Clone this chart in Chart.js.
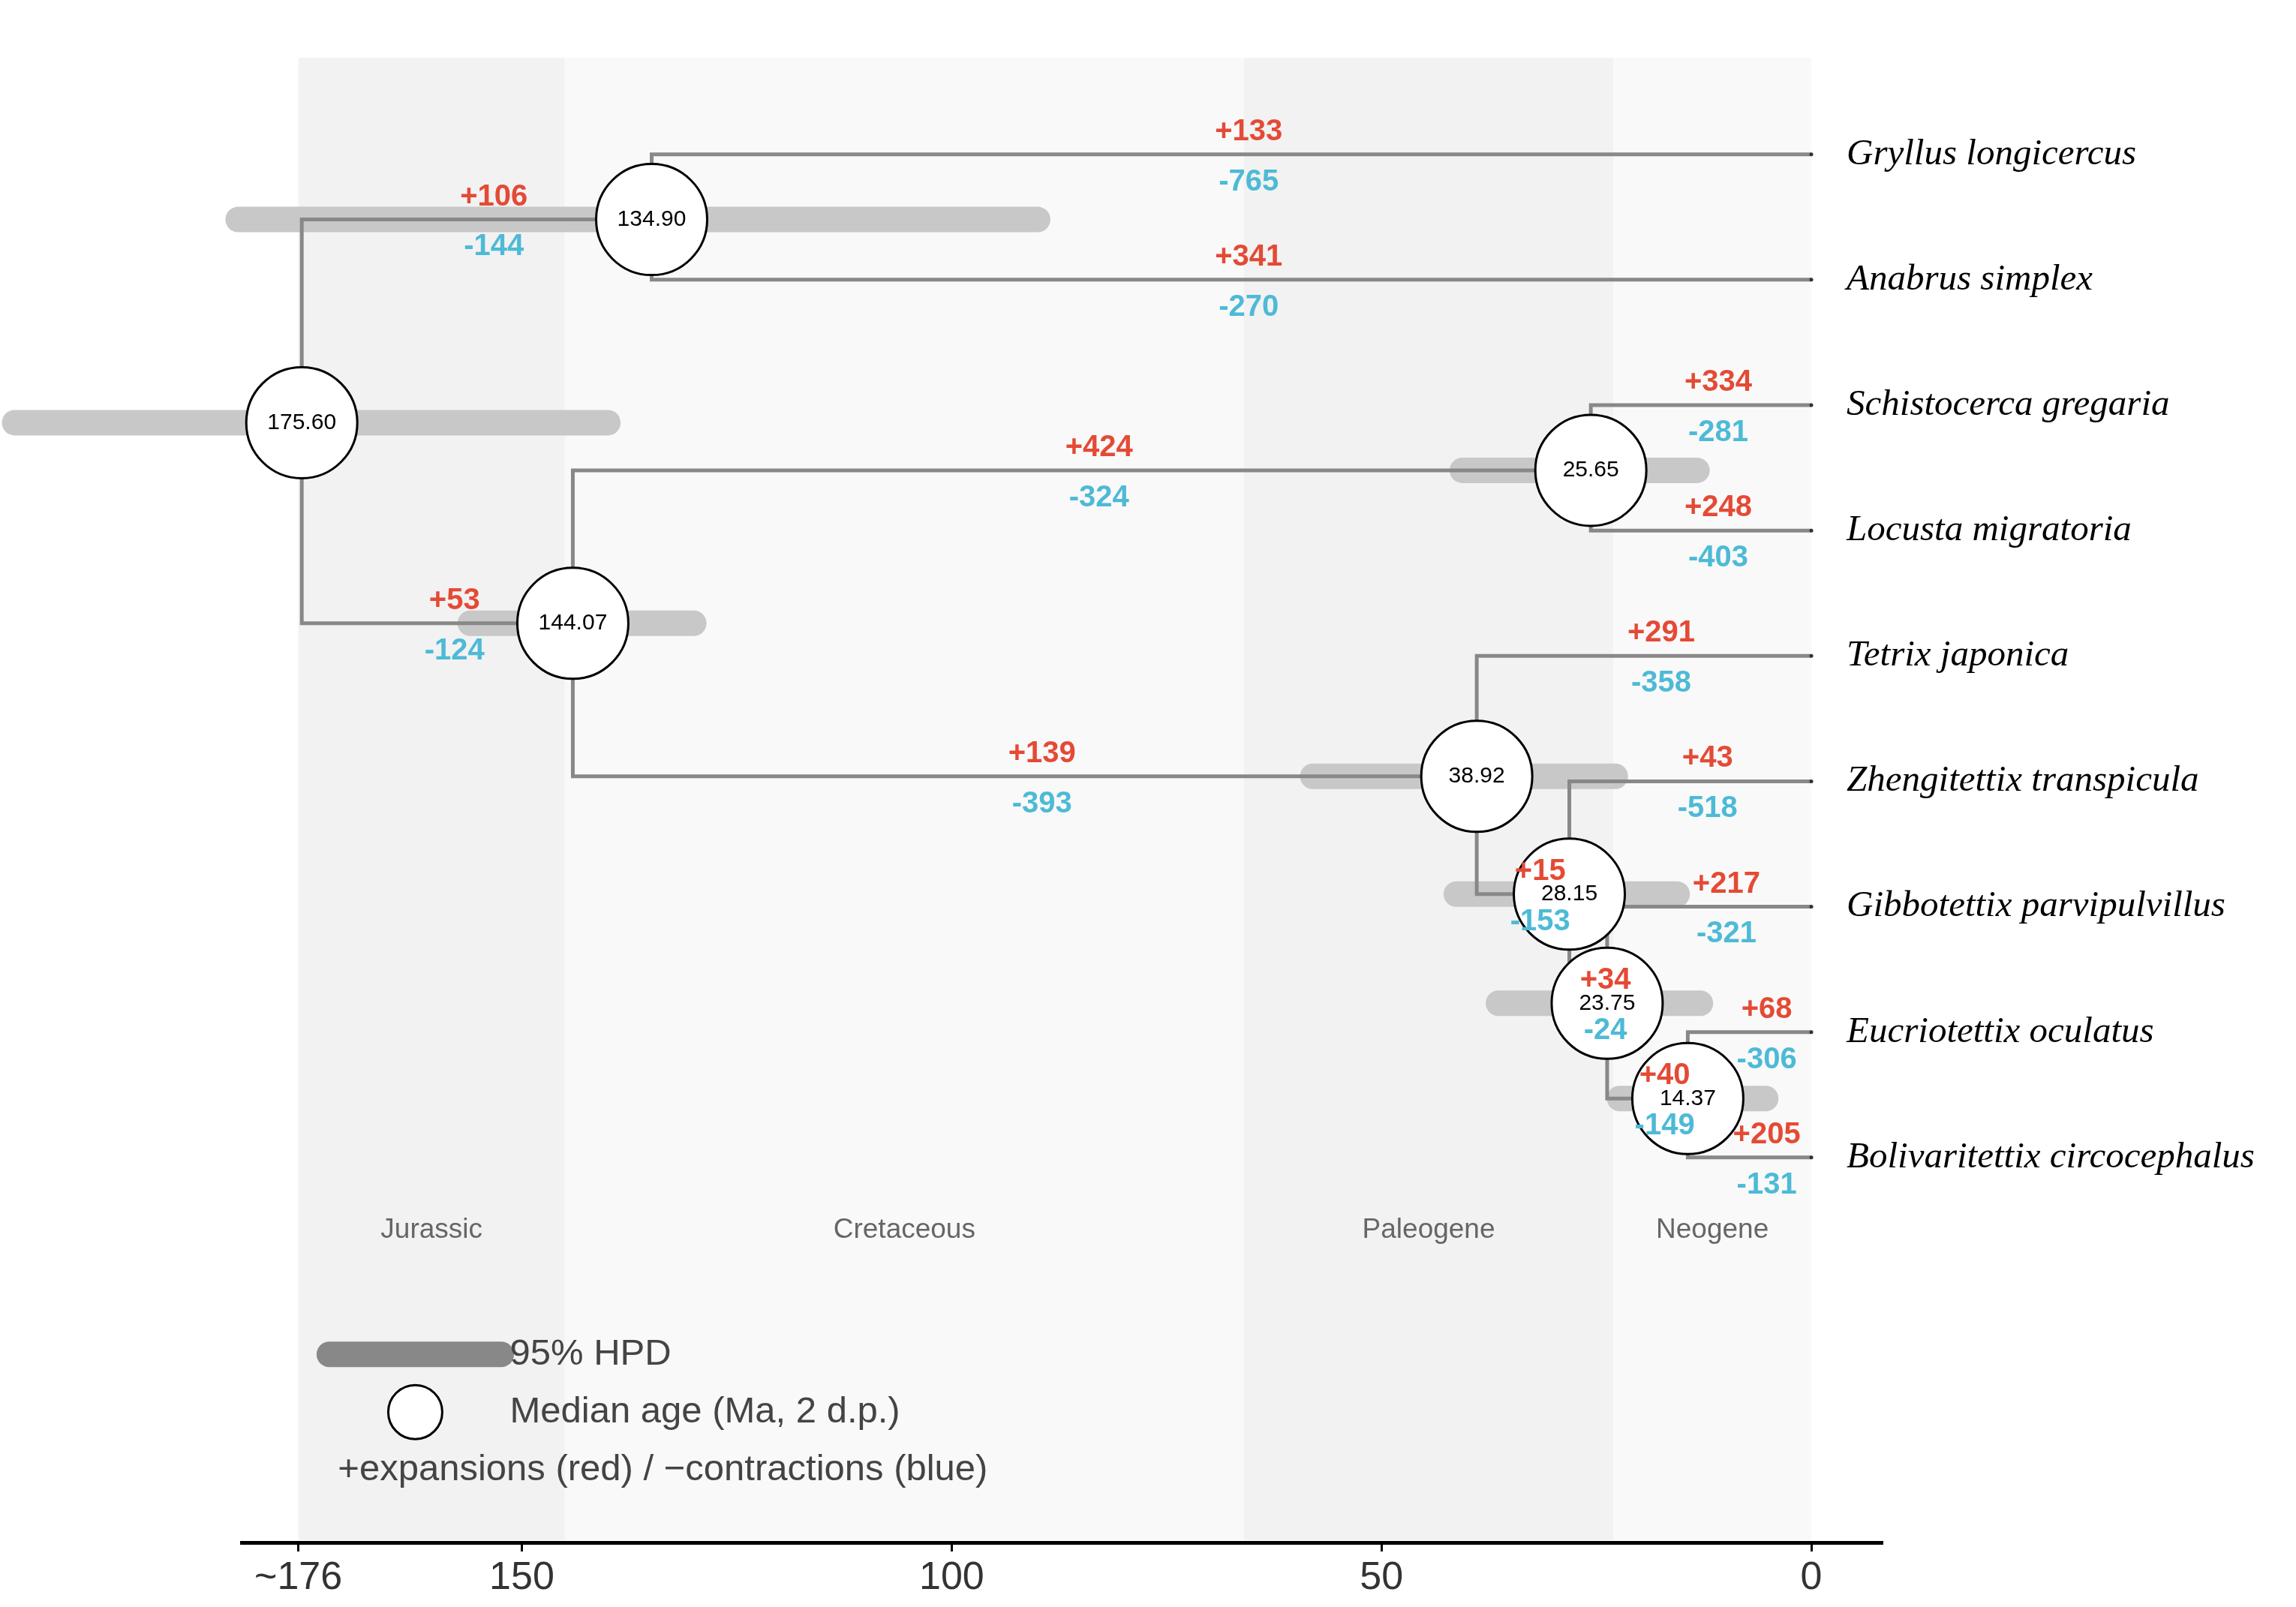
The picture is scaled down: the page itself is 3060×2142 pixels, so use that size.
<!DOCTYPE html>
<html>
<head>
<meta charset="utf-8">
<script src="https://cdn.jsdelivr.net/npm/chart.js@4"></script>
<style>
  html, body { margin: 0; padding: 0; background: #fff; }
  #wrap { width: 3060px; height: 2142px; }
</style>
</head>
<body>
<div id="wrap"><canvas id="tree" width="3060" height="2142"></canvas></div>
<script>
// tips, top to bottom (row = index)
const tipNames = ["Gryllus longicercus", "Anabrus simplex", "Schistocerca gregaria", "Locusta migratoria",
    "Tetrix japonica", "Zhengitettix transpicula", "Gibbotettix parvipulvillus", "Eucriotettix oculatus",
    "Bolivaritettix circocephalus"];

// internal nodes: median age (Ma), row, 95% HPD
const nodeAges = [175.60, 134.90, 144.07, 25.65, 38.92, 28.15, 23.75, 14.37];
const nodeRows = [2.14, 0.52, 3.74, 2.52, 4.96, 5.90, 6.77, 7.53];
const hpdOld = [209, 183, 156, 40.6, 58, 41.3, 36.4, 22.3];
const hpdYoung = [140, 90, 130, 13.3, 22.8, 15.6, 12.9, 5.3];

// branches: parent node -> child (N = node, T = tip), gene family gains / losses
const edgeParent = [0, 0, 1, 1, 2, 2, 3, 3, 4, 4, 5, 5, 6, 6, 7, 7];
const edgeChild = ["N1", "N2", "T0", "T1", "N3", "N4", "T2", "T3", "T4", "N5", "T5", "N6", "T6", "N7", "T7", "T8"];
const gains = [106, 53, 133, 341, 424, 139, 334, 248, 291, 15, 43, 34, 217, 40, 68, 205];
const losses = [144, 124, 765, 270, 324, 393, 281, 403, 358, 153, 518, 24, 321, 149, 306, 131];

// geological periods
const periodNames = ["Jurassic", "Cretaceous", "Paleogene", "Neogene"];
const periodStart = [176, 145, 66, 23.03];
const periodEnd = [145, 66, 23.03, 0];

const xTicks = [176, 150, 100, 50, 0];

const RED = "#e44a35";
const BLUE = "#4dbad6";

function childPos(c) {
    const i = Number(c.slice(1));
    return c[0] === "N" ? { x: nodeAges[i], y: nodeRows[i] } : { x: 0, y: i };
}

const datasets = [];

nodeAges.forEach(function (a, i) {
    datasets.push({
        data: [{ x: hpdOld[i], y: nodeRows[i] }, { x: hpdYoung[i], y: nodeRows[i] }],
        showLine: true, borderColor: "#c8c8c8", borderWidth: 34, borderCapStyle: "round",
        pointRadius: 0, order: 3, clip: false,
    });
});

edgeParent.forEach(function (p, k) {
    const c = childPos(edgeChild[k]);
    datasets.push({
        data: [{ x: nodeAges[p], y: nodeRows[p] }, { x: nodeAges[p], y: c.y }, { x: c.x, y: c.y }],
        showLine: true, borderColor: "#888888", borderWidth: 5, pointRadius: 0, order: 2, clip: false,
    });
});

datasets.push({
    data: tipNames.map(function (n, i) { return { x: 0, y: i }; }),
    pointRadius: 2.5, pointBackgroundColor: "#333", pointBorderWidth: 0, order: 1, clip: false,
});

datasets.push({
    data: nodeAges.map(function (a, i) { return { x: a, y: nodeRows[i] }; }),
    pointRadius: 74, pointBackgroundColor: "#ffffff", pointBorderColor: "#000", pointBorderWidth: 3, order: 0, clip: false,
});

// legend marks
datasets.push({
    data: [{ x: 172.4, y: 9.57 }, { x: 152.4, y: 9.57 }],
    showLine: true, borderColor: "#888888", borderWidth: 34, borderCapStyle: "round", pointRadius: 0, order: 3,
});
datasets.push({
    data: [{ x: 162.4, y: 10.03 }],
    pointRadius: 36, pointBackgroundColor: "#fff", pointBorderColor: "#000", pointBorderWidth: 3, order: 0,
});

const decor = {
    id: "decor",
    beforeDraw(chart) {
        const ctx = chart.ctx, xs = chart.scales.x, ys = chart.scales.y;
        const top = chart.chartArea.top, bottom = chart.chartArea.bottom - 3;
        ctx.save();
        periodNames.forEach(function (n, i) {
            const x0 = xs.getPixelForValue(periodStart[i]), x1 = xs.getPixelForValue(periodEnd[i]);
            ctx.fillStyle = i % 2 === 0 ? "#f2f2f2" : "#f9f9f9";
            ctx.fillRect(x0, top, x1 - x0, bottom - top);
            ctx.fillStyle = "#666";
            ctx.font = "37px 'Liberation Sans', Arial, sans-serif";
            ctx.textAlign = "center";
            ctx.textBaseline = "middle";
            ctx.fillText(n, xs.getPixelForValue((periodStart[i] + periodEnd[i]) / 2), ys.getPixelForValue(8.58));
        });
        ctx.restore();
    },
    afterDatasetsDraw(chart) {
        const ctx = chart.ctx, xs = chart.scales.x, ys = chart.scales.y;
        ctx.save();
        ctx.textAlign = "center";
        ctx.textBaseline = "middle";
        ctx.font = "bold 40px 'Liberation Sans', Arial, sans-serif";
        edgeParent.forEach(function (p, k) {
            const c = childPos(edgeChild[k]);
            const x = xs.getPixelForValue((nodeAges[p] + c.x) / 2 - 2);
            ctx.fillStyle = RED;
            ctx.fillText("+" + gains[k], x, ys.getPixelForValue(c.y - 0.18));
            ctx.fillStyle = BLUE;
            ctx.fillText("-" + losses[k], x, ys.getPixelForValue(c.y + 0.22));
        });
        ctx.fillStyle = "#000";
        ctx.font = "30px 'Liberation Sans', Arial, sans-serif";
        nodeAges.forEach(function (a, i) {
            ctx.fillText(a.toFixed(2), xs.getPixelForValue(a), ys.getPixelForValue(nodeRows[i]));
        });
        ctx.textAlign = "left";
        ctx.font = "italic 49px 'Liberation Serif', 'Times New Roman', serif";
        tipNames.forEach(function (n, i) {
            ctx.fillText(n, xs.getPixelForValue(-4.1), ys.getPixelForValue(i));
        });
        ctx.fillStyle = "#444";
        ctx.font = "49px 'Liberation Sans', Arial, sans-serif";
        ctx.fillText("95% HPD", xs.getPixelForValue(151.4), ys.getPixelForValue(9.57));
        ctx.fillText("Median age (Ma, 2 d.p.)", xs.getPixelForValue(151.4), ys.getPixelForValue(10.03));
        ctx.fillText("+expansions (red) / \u2212contractions (blue)", xs.getPixelForValue(171.4), ys.getPixelForValue(10.49));
        ctx.restore();
    },
};

new Chart(document.getElementById("tree").getContext("2d"), {
    type: "scatter",
    data: { datasets: datasets },
    plugins: [decor],
    options: {
        responsive: false,
        animation: false,
        devicePixelRatio: 1,
        layout: { padding: { left: 322, right: 552, top: -54, bottom: 0 } },
        plugins: { legend: { display: false }, tooltip: { enabled: false } },
        elements: { line: { tension: 0 } },
        scales: {
            x: {
                type: "linear", reverse: true, min: -8.2, max: 182.6,
                afterBuildTicks(scale) { scale.ticks = xTicks.map(function (v) { return { value: v }; }); },
                afterFit(scale) { scale.height = 86; },
                ticks: {
                    color: "#333", padding: 4,
                    font: { size: 52, family: "'Liberation Sans', Arial, sans-serif" },
                    callback(v) { return v === 176 ? "~176" : String(v); },
                },
                grid: { drawOnChartArea: false, tickLength: 12, color: "#000", lineWidth: 3 },
                border: { display: true, color: "#000", width: 5 },
            },
            y: { type: "linear", reverse: true, min: -0.77, max: 11.07, display: false },
        },
    },
});
</script>
</body>
</html>
